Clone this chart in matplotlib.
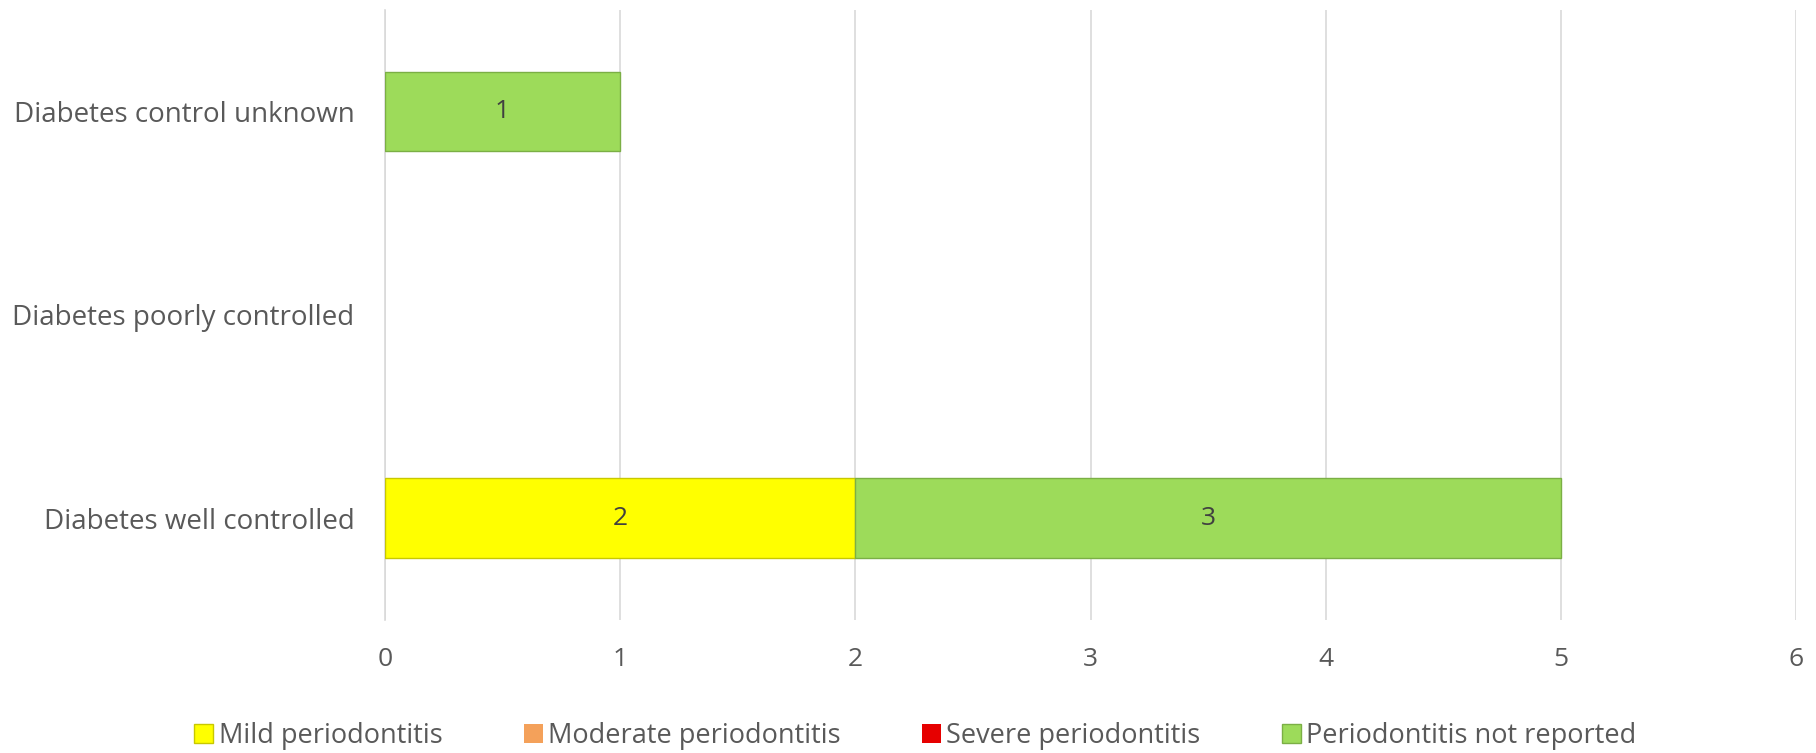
import numpy as np
import matplotlib.pyplot as plt

plt.rcParams['font.family'] = ['Open Sans', 'DejaVu Sans']

categories = ['Diabetes well controlled', 'Diabetes poorly controlled', 'Diabetes control unknown']
series_names = ['Mild periodontitis', 'Moderate periodontitis', 'Severe periodontitis', 'Periodontitis not reported']
mild = [2, 0, 0]
moderate = [0, 0, 0]
severe = [0, 0, 0]
not_reported = [3, 0, 1]
colors = ['#FFFF00', '#F4A15A', '#E60000', '#9DDB5A']
edges = ['#C8C800', '#C07030', '#A00000', '#7BAF45']

fig = plt.figure(figsize=(18.16, 7.53), dpi=100)
ax = fig.add_axes([0.212, 0.177, 0.777, 0.81])

y = np.arange(len(categories))
left = np.zeros(len(categories))
for name, vals, c, ec in zip(series_names, [mild, moderate, severe, not_reported], colors, edges):
    vals = np.array(vals, dtype=float)
    lw = [1.0 if v > 0 else 0 for v in vals]
    bars = ax.barh(y, vals, left=left, height=0.39, color=c, edgecolor=ec,
                   linewidth=lw, label=name, zorder=3)
    for b, v in zip(bars, vals):
        if v > 0:
            ax.text(b.get_x() + b.get_width() / 2, b.get_y() + b.get_height() / 2,
                    f'{int(v)}', ha='center', va='center', fontsize=19, color='#404040', zorder=4)
    left += vals

ax.set_xlim(0, 6)
ax.set_ylim(-0.5, 2.5)
ax.set_xticks(range(0, 7))
ax.set_yticks(y)
ax.set_yticklabels(categories)
ax.grid(axis='x', color='#D9D9D9', linewidth=1.2, zorder=0)
for s in ['top', 'right', 'bottom']:
    ax.spines[s].set_visible(False)
ax.spines['left'].set_color('#D9D9D9')
ax.spines['left'].set_linewidth(1.2)
ax.tick_params(axis='both', length=0, labelsize=19, labelcolor='#595959')
ax.tick_params(axis='y', labelsize=20)
ax.tick_params(axis='x', pad=20)
ax.tick_params(axis='y', pad=22)

handles, labels = ax.get_legend_handles_labels()
leg = fig.legend(handles, labels, loc='center', bbox_to_anchor=(0.504, 0.022), ncol=4, frameon=False,
                 fontsize=19.5, handlelength=0.7, handleheight=0.7, handletextpad=0.2,
                 columnspacing=3.0)
for t in leg.get_texts():
    t.set_color('#595959')

fig.savefig('out.png', dpi=100)
